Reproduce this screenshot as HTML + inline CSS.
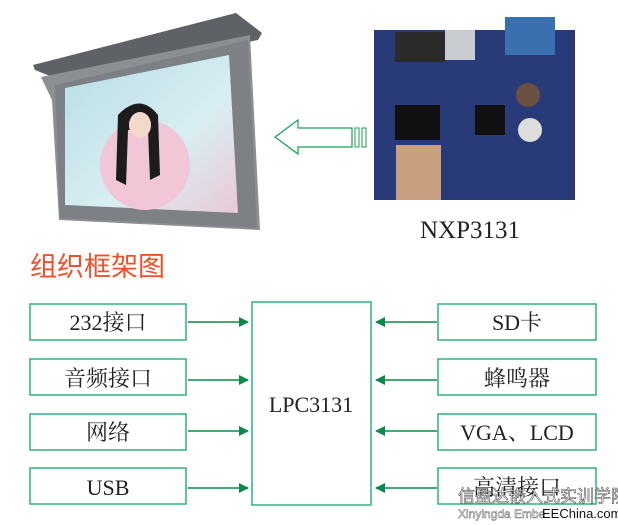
<!DOCTYPE html>
<html><head><meta charset="utf-8"><style>
body{margin:0;background:#fff;}
svg{display:block}
text{font-family:"Liberation Serif","Noto Serif CJK SC",serif;fill:#222}
</style></head><body>
<svg width="618" height="525" viewBox="0 0 618 525" xmlns="http://www.w3.org/2000/svg">
<defs>
<linearGradient id="scr" x1="0" y1="0" x2="1" y2="1"><stop offset="0" stop-color="#b8dde6"/><stop offset="0.6" stop-color="#d8eef2"/><stop offset="1" stop-color="#e9c9d8"/></linearGradient>
<marker id="ah" markerWidth="10" markerHeight="10" refX="9" refY="5" orient="auto" markerUnits="userSpaceOnUse"><path d="M0,0 L10,5 L0,10 z" fill="#0a8a4a"/></marker>
</defs>
<!-- TV -->
<polygon points="33,65 236,13 262,33 258,40 60,80 35,70" fill="#5e6266"/>
<polygon points="41,77 250,35 260,230 59,220 52,100" fill="#8c8f92"/>
<polygon points="55,85 248,40 257,228 60,218" fill="#7d8084"/>
<polygon points="65,88 229,55 238,213 65,205" fill="url(#scr)"/>
<ellipse cx="145" cy="165" rx="45" ry="45" fill="#f1c6d6"/>
<path d="M118,115 Q140,92 158,115 L160,175 L150,180 L148,130 L128,130 L126,185 L116,180 Z" fill="#1c1c1c"/>
<ellipse cx="140" cy="125" rx="11" ry="13" fill="#f3d9cc"/>
<!-- board -->
<rect x="374" y="30" width="201" height="170" fill="#283a78"/>
<rect x="395" y="32" width="50" height="30" fill="#2a2a2a"/>
<rect x="445" y="30" width="30" height="30" fill="#c8ccd0"/>
<rect x="505" y="17" width="50" height="38" fill="#3a70b0"/>
<rect x="396" y="145" width="45" height="55" fill="#c8a080"/>
<rect x="395" y="105" width="45" height="35" fill="#111"/>
<rect x="475" y="105" width="30" height="30" fill="#111"/>
<circle cx="530" cy="130" r="12" fill="#ddd"/>
<circle cx="528" cy="95" r="12" fill="#6a5040"/>
<!-- hollow arrow -->
<polygon points="275,137 298,120 298,128 352,128 352,147 298,147 298,154" fill="#fff" stroke="#16a053" stroke-width="1.2"/>
<rect x="355" y="128" width="4" height="19" fill="#fff" stroke="#16a053"/>
<rect x="362" y="128" width="4" height="19" fill="#fff" stroke="#16a053"/>
<text x="420" y="238" font-size="25">NXP3131</text>
<text x="30" y="276" font-size="27" style="fill:#f0502a;font-family:'Noto Sans CJK SC',sans-serif">组织框架图</text>
<!-- diagram -->
<g fill="#fff" stroke="#2db37a" stroke-width="1.5">
<rect x="30" y="304" width="156" height="36"/>
<rect x="30" y="359" width="156" height="36"/>
<rect x="30" y="414" width="156" height="36"/>
<rect x="30" y="468" width="156" height="36"/>
<rect x="252" y="302" width="119" height="203"/>
<rect x="438" y="304" width="158" height="36"/>
<rect x="438" y="359" width="158" height="36"/>
<rect x="438" y="414" width="158" height="36"/>
<rect x="438" y="468" width="158" height="36"/>
</g>
<g stroke="#0a8a4a" stroke-width="1.5" marker-end="url(#ah)">
<line x1="188" y1="322" x2="248" y2="322"/>
<line x1="188" y1="380" x2="248" y2="380"/>
<line x1="188" y1="431" x2="248" y2="431"/>
<line x1="188" y1="488" x2="248" y2="488"/>
<line x1="437" y1="322" x2="376" y2="322"/>
<line x1="437" y1="380" x2="376" y2="380"/>
<line x1="437" y1="431" x2="376" y2="431"/>
<line x1="437" y1="488" x2="376" y2="488"/>
</g>
<g font-size="22" text-anchor="middle">
<text x="108" y="330">232接口</text>
<text x="108" y="386">音频接口</text>
<text x="108" y="440">网络</text>
<text x="108" y="495">USB</text>
<text x="311" y="412">LPC3131</text>
<text x="517" y="330">SD卡</text>
<text x="517" y="386">蜂鸣器</text>
<text x="517" y="440">VGA、LCD</text>
<text x="517" y="495">高清接口</text>
</g>
<text x="458" y="502" font-size="17" style="fill:#fff;stroke:#555;stroke-width:0.6;font-family:'Noto Sans CJK SC',sans-serif">信盈达嵌入式实训学院</text>
<text x="458" y="518" font-size="12" style="fill:#fff;stroke:#666;stroke-width:0.5;font-family:'Liberation Sans',sans-serif">Xinyingda Embe</text>
<text x="542" y="518" font-size="13" style="fill:#111;font-family:'Liberation Sans',sans-serif">EEChina.com</text>
</svg>
</body></html>
